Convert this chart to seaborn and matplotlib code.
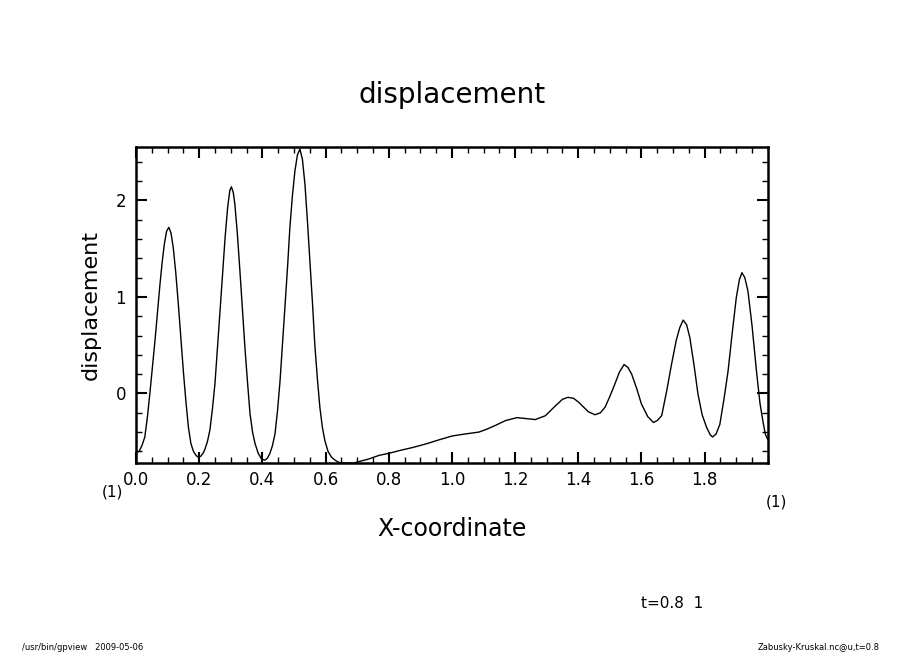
import numpy as np
import pandas as pd
import matplotlib
matplotlib.use("Agg")
import matplotlib.pyplot as plt
import seaborn as sns
from matplotlib.ticker import MultipleLocator

# values (x-coordinate, displacement)
x_coord = [
    0.000, 0.010, 0.020, 0.028, 0.036, 0.044, 0.052, 0.060, 0.068, 0.076,
    0.083, 0.090, 0.097, 0.104, 0.111, 0.118, 0.126, 0.134, 0.142, 0.150,
    0.158, 0.166, 0.174, 0.182, 0.190, 0.197, 0.205, 0.212, 0.218, 0.226,
    0.234, 0.242, 0.250, 0.258, 0.266, 0.274, 0.282, 0.290, 0.297, 0.302,
    0.308, 0.313, 0.321, 0.329, 0.337, 0.345, 0.353, 0.361, 0.369, 0.377,
    0.387, 0.398, 0.408, 0.416, 0.424, 0.432, 0.440, 0.448, 0.456, 0.464,
    0.472, 0.480, 0.487, 0.495, 0.503, 0.511, 0.519, 0.527, 0.535, 0.543,
    0.551, 0.559, 0.566, 0.574, 0.582, 0.590, 0.598, 0.608, 0.619, 0.630,
    0.640, 0.650, 0.670, 0.690, 0.700, 0.735, 0.770, 0.800, 0.835, 0.875,
    0.920, 0.959, 1.001, 1.040, 1.085, 1.110, 1.138, 1.170, 1.206, 1.235,
    1.264, 1.296, 1.327, 1.350, 1.367, 1.385, 1.401, 1.432, 1.453, 1.470,
    1.485, 1.500, 1.516, 1.530, 1.545, 1.557, 1.569, 1.585, 1.600, 1.620,
    1.638, 1.650, 1.664, 1.680, 1.695, 1.710, 1.721, 1.732, 1.743, 1.753,
    1.766, 1.779, 1.792, 1.806, 1.818, 1.825, 1.836, 1.848, 1.861, 1.874,
    1.887, 1.900, 1.910, 1.918, 1.927, 1.937, 1.950, 1.964, 1.975, 1.985,
    1.992, 2.000,
]
displacement = [
    -0.61, -0.60, -0.53, -0.45, -0.25, 0.00, 0.27, 0.54, 0.84, 1.13,
    1.36, 1.55, 1.68, 1.72, 1.66, 1.51, 1.25, 0.93, 0.58, 0.23,
    -0.08, -0.35, -0.52, -0.60, -0.64, -0.66, -0.65, -0.62, -0.58, -0.50,
    -0.38, -0.16, 0.10, 0.47, 0.85, 1.23, 1.61, 1.92, 2.10, 2.14,
    2.08, 1.96, 1.65, 1.27, 0.87, 0.47, 0.12, -0.21, -0.40, -0.52,
    -0.62, -0.68, -0.69, -0.67, -0.62, -0.54, -0.42, -0.18, 0.13, 0.52,
    0.92, 1.32, 1.71, 2.04, 2.30, 2.47, 2.53, 2.42, 2.16, 1.77,
    1.34, 0.92, 0.51, 0.16, -0.14, -0.35, -0.49, -0.60, -0.66, -0.69,
    -0.71, -0.72, -0.72, -0.72, -0.71, -0.68, -0.64, -0.62, -0.59, -0.56,
    -0.52, -0.48, -0.44, -0.42, -0.40, -0.37, -0.33, -0.28, -0.25, -0.26,
    -0.27, -0.23, -0.13, -0.06, -0.04, -0.05, -0.09, -0.19, -0.22, -0.20,
    -0.14, -0.03, 0.10, 0.22, 0.30, 0.27, 0.20, 0.05, -0.11, -0.24,
    -0.30, -0.28, -0.23, 0.03, 0.30, 0.55, 0.68, 0.76, 0.71, 0.58,
    0.30, -0.01, -0.22, -0.35, -0.43, -0.45, -0.42, -0.32, -0.06, 0.23,
    0.62, 0.99, 1.18, 1.25, 1.20, 1.06, 0.70, 0.23, -0.10, -0.30,
    -0.42, -0.48,
]

df = pd.DataFrame({"x": x_coord, "displacement": displacement})

sns.set_theme(style="white")
plt.rcParams["font.family"] = ["DejaVu Sans"]
plt.rcParams["text.color"] = "black"
plt.rcParams["axes.labelcolor"] = "black"

fig = plt.figure(figsize=(9.04, 6.54), dpi=100)
ax = fig.add_axes([0.1504, 0.292, 0.699, 0.483])

sns.lineplot(data=df, x="x", y="displacement", color="black", linewidth=1.0,
             ax=ax, estimator=None, sort=False)

ax.set_xlim(0, 2.0)
ax.set_ylim(-0.72, 2.55)
ax.xaxis.set_minor_locator(MultipleLocator(0.05))
ax.yaxis.set_minor_locator(MultipleLocator(0.2))
ax.set_xticks([0.0, 0.2, 0.4, 0.6, 0.8, 1.0, 1.2, 1.4, 1.6, 1.8])
ax.set_xticklabels(["0.0", "0.2", "0.4", "0.6", "0.8", "1.0", "1.2", "1.4", "1.6", "1.8"])
ax.set_yticks([0, 1, 2])
ax.set_yticklabels(["0", "1", "2"])

ax.tick_params(which="both", direction="in", top=True, right=True,
               bottom=True, left=True, colors="black", labelsize=12)
ax.tick_params(which="major", length=8, width=1.5)
ax.tick_params(which="minor", length=4, width=1.0)
ax.tick_params(axis="x", pad=6)
ax.tick_params(axis="y", pad=7)
for s in ax.spines.values():
    s.set_linewidth(1.8)
    s.set_color("black")

ax.set_xlabel("X-coordinate", fontsize=17, labelpad=20)
ax.set_ylabel("displacement", fontsize=16, labelpad=11)
ax.set_title("displacement", fontsize=20, pad=32)

fig.text(112 / 904, 1 - 492 / 654, "(1)", fontsize=11, ha="center", va="center")
fig.text(776 / 904, 1 - 502 / 654, "(1)", fontsize=11, ha="center", va="center")
fig.text(672 / 904, 1 - 603 / 654, "t=0.8  1", fontsize=11, ha="center", va="center")
fig.text(22 / 904, 1 - 648 / 654, "/usr/bin/gpview   2009-05-06", fontsize=6,
         ha="left", va="center")
fig.text(880 / 904, 1 - 648 / 654, "Zabusky-Kruskal.nc@u,t=0.8", fontsize=6,
         ha="right", va="center")

fig.savefig("out.png", dpi=100)
